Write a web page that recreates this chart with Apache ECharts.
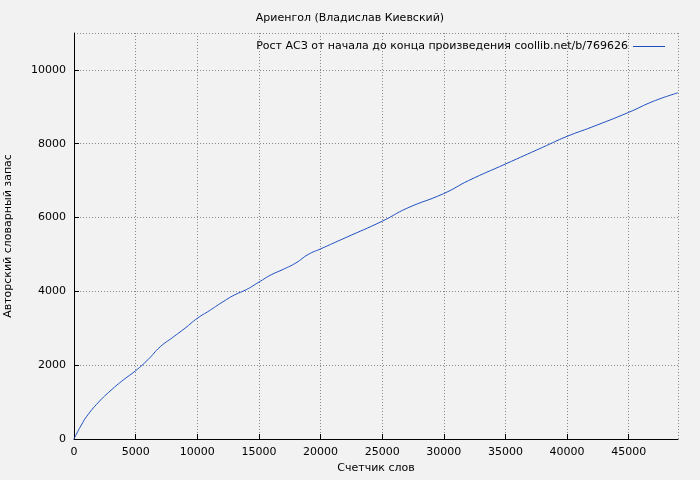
<!DOCTYPE html>
<html>
<head>
<meta charset="utf-8">
<script src="https://cdn.jsdelivr.net/npm/echarts@6/dist/echarts.min.js"></script>
<style>html,body{margin:0;padding:0;background:#f2f2f2}#chart{width:700px;height:480px}</style>
</head>
<body>
<div id="chart"></div>
<script>
var words = [0, 300, 600, 1000, 2000, 3000, 4000, 5000, 6000, 7000, 8000, 9000, 10000, 11000, 12000, 13000, 14000, 15000, 16000, 17000, 18000, 19000, 20000, 22000, 25000, 27000, 30000, 32000, 35000, 38000, 40000, 42000, 45000, 47000, 49000];
var vocab = [0, 200, 380, 600, 1000, 1320, 1600, 1850, 2150, 2500, 2750, 3000, 3270, 3480, 3700, 3900, 4050, 4250, 4450, 4600, 4770, 5000, 5150, 5450, 5900, 6250, 6650, 7000, 7450, 7900, 8200, 8450, 8850, 9150, 9380];
var seriesName = 'Рост АСЗ от начала до конца произведения coollib.net/b/769626';

var chart = echarts.init(document.getElementById('chart'));
var font = 'DejaVu Sans';
var plain = function (v) { return String(v); };
chart.setOption({
    backgroundColor: '#f2f2f2',
    animation: false,
    title: {
        text: 'Ариенгол (Владислав Киевский)',
        left: 'center', top: 8,
        textStyle: {fontSize: 11, fontWeight: 'normal', color: '#000', fontFamily: font}
    },
    legend: {
        data: [seriesName],
        right: 30, top: 36,
        align: 'right',
        itemWidth: 32, itemHeight: 1,
        itemGap: 10,
        icon: 'rect',
        textStyle: {fontSize: 11, color: '#000', fontFamily: font}
    },
    grid: {left: 74, right: 22, top: 33, bottom: 41, outerBoundsMode: 'none'},
    xAxis: {
        type: 'value', min: 0, max: 49000, interval: 5000,
        name: 'Счетчик слов', nameLocation: 'middle', nameGap: 22,
        nameTextStyle: {fontSize: 11, color: '#000', fontFamily: font},
        axisLine: {lineStyle: {color: '#000'}},
        axisTick: {inside: true, lineStyle: {color: '#000'}},
        axisLabel: {fontSize: 11, color: '#000', fontFamily: font, showMaxLabel: false, formatter: plain},
        splitLine: {lineStyle: {type: [1, 2], color: '#888'}}
    },
    yAxis: {
        type: 'value', min: 0, max: 11000, interval: 2000,
        name: 'Авторский словарный запас', nameLocation: 'middle', nameGap: 60,
        nameTextStyle: {fontSize: 11, color: '#000', fontFamily: font},
        axisLine: {show: true, lineStyle: {color: '#000'}},
        axisTick: {show: true, inside: true, lineStyle: {color: '#000'}},
        axisLabel: {fontSize: 11, color: '#000', fontFamily: font, showMaxLabel: false, formatter: plain},
        splitLine: {lineStyle: {type: [1, 2], color: '#888'}}
    },
    series: [{
        name: seriesName,
        type: 'line',
        showSymbol: false,
        smooth: true,
        data: words.map(function (w, i) { return [w, vocab[i]]; }),
        lineStyle: {color: '#1f4fc0', width: 1},
        itemStyle: {color: '#1f4fc0'}
    }]
});
</script>
</body>
</html>
